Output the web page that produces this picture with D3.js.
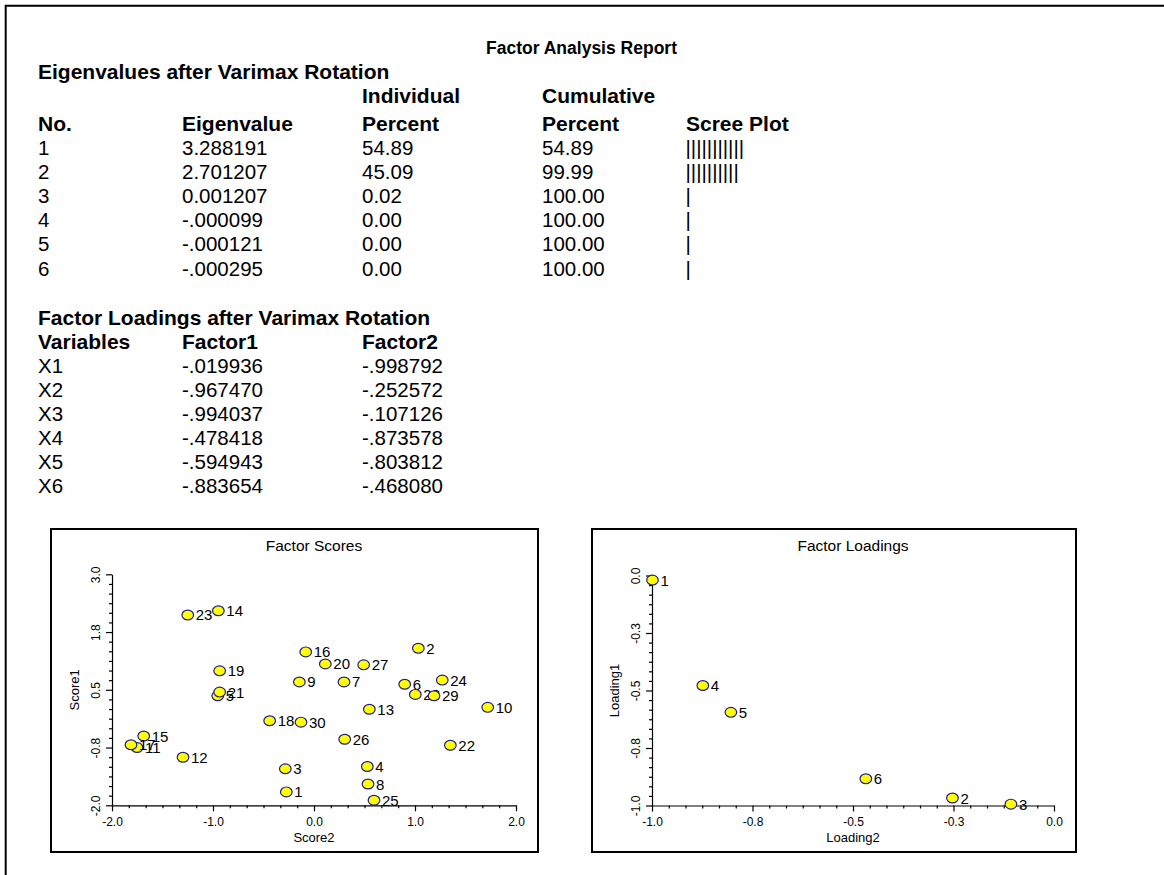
<!DOCTYPE html>
<html>
<head>
<meta charset="utf-8">
<script src="https://cdn.jsdelivr.net/npm/d3@7"></script>
<style>
  html, body { margin: 0; padding: 0; background: #fff; }
  svg { display: block; font-family: Arial, "Liberation Sans", sans-serif; }
</style>
</head>
<body>
<svg id="chart" width="1164" height="875"></svg>
<script>
// ---------- DATA ----------
const reportTitle = "Factor Analysis Report";
const eigenNo = ["1", "2", "3", "4", "5", "6"];
const eigenvalues = ["3.288191", "2.701207", "0.001207", "-.000099", "-.000121", "-.000295"];
const individualPct = ["54.89", "45.09", "0.02", "0.00", "0.00", "0.00"];
const cumulativePct = ["54.89", "99.99", "100.00", "100.00", "100.00", "100.00"];
const screeBars = [11, 10, 1, 1, 1, 1];

const variables = ["X1", "X2", "X3", "X4", "X5", "X6"];
const factor1 = [-0.019936, -0.967470, -0.994037, -0.478418, -0.594943, -0.883654];
const factor2 = [-0.998792, -0.252572, -0.107126, -0.873578, -0.803812, -0.468080];

// Factor scores (row ids 1..30)
const scoreIds = d3.range(1, 31);
const score2 = [-0.274, 1.033, -0.284, 0.528, -0.953, 0.898, 0.297, 0.535, -0.145, 1.72,
                -1.752, -1.297, 0.548, -0.947, -1.686, -0.082, -1.812, -0.439, -0.934, 0.112,
                -0.934, 1.35, -1.25, 1.27, 0.594, 0.304, 0.492, 1.003, 1.188, -0.129];
const score1 = [-1.71, 1.40, -1.21, -1.16, 0.37, 0.62, 0.67, -1.54, 0.67, 0.12,
                -0.75, -0.96, 0.08, 2.21, -0.50, 1.32, -0.69, -0.17, 0.91, 1.06,
                0.45, -0.70, 2.12, 0.71, -1.89, -0.57, 1.04, 0.40, 0.37, -0.20];

const scoresXTicks = [-2.0, -1.0, 0.0, 1.0, 2.0];
const scoresYTicks = [-2.0, -0.75, 0.5, 1.75, 3.0];
const loadXTicks = [-1.0, -0.75, -0.5, -0.25, 0.0];
const loadYTicks = [-1.0, -0.75, -0.5, -0.25, 0.0];

// ---------- DRAW ----------
const svg = d3.select("#chart");
svg.append("rect").attr("width", 1164).attr("height", 875).attr("fill", "#fff");

// outer frame
svg.append("path").attr("d", "M5.7,875V5.7H1164")
  .attr("fill", "none").attr("stroke", "#000").attr("stroke-width", 2);

// Title
svg.append("text").attr("x", 581.5).attr("y", 53.5).attr("text-anchor", "middle")
  .attr("font-size", 17.5).attr("font-weight", "bold").text(reportTitle);

const FS = 20.5;
const cols = [38, 182, 362, 542, 686];
function txt(x, y, s, bold) {
  svg.append("text").attr("x", x).attr("y", y).attr("font-size", bold ? 21 : FS)
    .attr("font-weight", bold ? "bold" : "normal").text(s);
}

// Eigenvalue table
txt(38, 79, "Eigenvalues after Varimax Rotation", true);
txt(cols[2], 103, "Individual", true);
txt(cols[3], 103, "Cumulative", true);
["No.", "Eigenvalue", "Percent", "Percent", "Scree Plot"].forEach((h, i) => txt(cols[i], 130.5, h, true));
const rowStep = 24.1;
eigenNo.forEach((n, i) => {
  const y = 155 + i * rowStep;
  txt(cols[0], y, n);
  txt(cols[1], y, eigenvalues[i]);
  txt(cols[2], y, individualPct[i]);
  txt(cols[3], y, cumulativePct[i]);
  txt(cols[4] - 0.5, y, "|".repeat(screeBars[i]));
});

// Loadings table
const fmtL = v => v.toFixed(6).replace(/^(-?)0\./, "$1.");
txt(38, 324.5, "Factor Loadings after Varimax Rotation", true);
["Variables", "Factor1", "Factor2"].forEach((h, i) => txt(cols[i], 348.6, h, true));
variables.forEach((v, i) => {
  const y = 372.7 + i * rowStep;
  txt(cols[0], y, v);
  txt(cols[1], y, fmtL(factor1[i]));
  txt(cols[2], y, fmtL(factor2[i]));
});

// ---------- Scatter plots ----------
const fmtTick = v => v.toFixed(1);
function minorTicks(majors) {
  const out = [];
  for (let k = 0; k < majors.length - 1; k++) {
    const a = majors[k], b = majors[k + 1];
    for (let j = 1; j < 6; j++) out.push(a + (b - a) * j / 6);
  }
  return out;
}

function drawPlot(cfg) {
  const g = svg.append("g");
  // box
  g.append("rect").attr("x", cfg.box[0]).attr("y", cfg.box[1])
    .attr("width", cfg.box[2] - cfg.box[0]).attr("height", cfg.box[3] - cfg.box[1])
    .attr("fill", "#fff").attr("stroke", "#000").attr("stroke-width", 2);

  const x = d3.scaleLinear().domain(cfg.xDomain).range([cfg.left, cfg.right]);
  const y = d3.scaleLinear().domain(cfg.yDomain).range([cfg.bottom, cfg.top]);

  // title
  g.append("text").attr("x", (cfg.left + cfg.right) / 2).attr("y", 550.5)
    .attr("text-anchor", "middle").attr("font-size", 15.5).text(cfg.title);

  // minor ticks
  g.append("g").attr("transform", `translate(0,${cfg.bottom})`)
    .call(d3.axisBottom(x).tickValues(minorTicks(cfg.xTicks)).tickSize(3).tickSizeOuter(0).tickFormat(""))
    .call(a => a.select(".domain").remove());
  g.append("g").attr("transform", `translate(${cfg.left},0)`)
    .call(d3.axisLeft(y).tickValues(minorTicks(cfg.yTicks)).tickSize(3).tickSizeOuter(0).tickFormat(""))
    .call(a => a.select(".domain").remove());

  // major x axis
  const xa = g.append("g").attr("transform", `translate(0,${cfg.bottom})`)
    .call(d3.axisBottom(x).tickValues(cfg.xTicks).tickSize(6).tickSizeOuter(0).tickFormat(fmtTick));
  xa.selectAll("text").attr("y", 12).attr("font-size", 12).attr("fill", "#000")
    .attr("font-family", "Arial, 'Liberation Sans', sans-serif");
  // major y axis
  const ya = g.append("g").attr("transform", `translate(${cfg.left},0)`)
    .call(d3.axisLeft(y).tickValues(cfg.yTicks).tickSize(6).tickSizeOuter(0).tickFormat(fmtTick));
  ya.selectAll("text").attr("x", null).attr("dy", null).attr("text-anchor", "middle")
    .attr("transform", "translate(-12,0) rotate(-90)")
    .attr("font-size", 12).attr("fill", "#000")
    .attr("font-family", "Arial, 'Liberation Sans', sans-serif");
  g.selectAll(".domain, .tick line").attr("stroke", "#000").attr("stroke-width", 1.2);

  // axis titles
  g.append("text").attr("x", (cfg.left + cfg.right) / 2).attr("y", 841.5)
    .attr("text-anchor", "middle").attr("font-size", 13).text(cfg.xLabel);
  g.append("text").attr("transform", `translate(${cfg.left - 33},${(cfg.top + cfg.bottom) / 2}) rotate(-90)`)
    .attr("text-anchor", "middle").attr("font-size", 13).text(cfg.yLabel);

  // points
  const pts = g.append("g");
  cfg.ids.forEach((id, i) => {
    const cx = x(cfg.xs[i]), cy = y(cfg.ys[i]);
    pts.append("ellipse").attr("cx", cx).attr("cy", cy).attr("rx", 5.8).attr("ry", 4.9)
      .attr("fill", "#ffff00").attr("stroke", "#1c1c8c").attr("stroke-width", 1.2);
    pts.append("text").attr("x", cx + 8).attr("y", cy + 5.5).attr("font-size", 15).text(id);
  });
}

drawPlot({
  box: [51, 529, 538, 852],
  left: 112, right: 516, top: 574.3, bottom: 805.3,
  xDomain: [-2, 2], yDomain: [-2, 3],
  xTicks: scoresXTicks, yTicks: scoresYTicks,
  title: "Factor Scores", xLabel: "Score2", yLabel: "Score1",
  ids: scoreIds, xs: score2, ys: score1
});

drawPlot({
  box: [592, 529, 1076, 852],
  left: 652, right: 1054, top: 575.5, bottom: 805.5,
  xDomain: [-1, 0], yDomain: [-1, 0],
  xTicks: loadXTicks, yTicks: loadYTicks,
  title: "Factor Loadings", xLabel: "Loading2", yLabel: "Loading1",
  ids: variables.map((v, i) => String(i + 1)), xs: factor2, ys: factor1
});
</script>
</body>
</html>
